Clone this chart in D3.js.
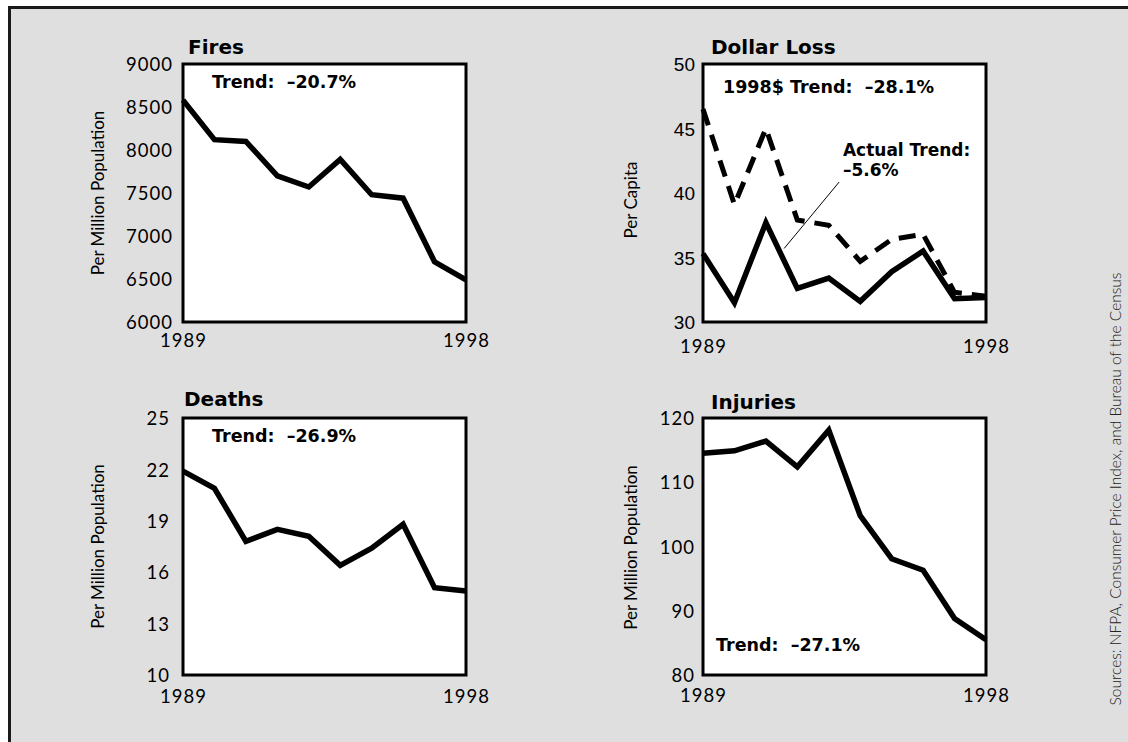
<!DOCTYPE html>
<html>
<head>
<meta charset="utf-8">
<script src="https://cdn.jsdelivr.net/npm/d3@7"></script>
<style>
  html, body { margin: 0; padding: 0; background: #ffffff; }
  svg { display: block; }
</style>
</head>
<body>
<svg id="chart" width="1128" height="742"></svg>
<script>
// ---------- data ----------
const years = [1989, 1990, 1991, 1992, 1993, 1994, 1995, 1996, 1997, 1998];
const fires = [8580, 8120, 8100, 7700, 7570, 7890, 7480, 7440, 6700, 6490];
const lossActual = [35.3, 31.5, 37.7, 32.6, 33.4, 31.6, 33.9, 35.5, 31.8, 31.9];
const loss1998 = [46.5, 39.1, 45.0, 37.9, 37.5, 34.7, 36.4, 36.8, 32.3, 32.0];
const deaths = [21.9, 20.9, 17.8, 18.5, 18.1, 16.4, 17.4, 18.8, 15.1, 14.9];
const injuries = [114.5, 114.9, 116.4, 112.4, 118.1, 104.8, 98.1, 96.3, 88.8, 85.5];

const yearTicks = [1989, 1998];
const fireTicks = [6000, 6500, 7000, 7500, 8000, 8500, 9000];
const lossTicks = [30, 35, 40, 45, 50];
const deathTicks = [10, 13, 16, 19, 22, 25];
const injuryTicks = [80, 90, 100, 110, 120];

const titles = ["Fires", "Dollar Loss", "Deaths", "Injuries"];
const yTitles = ["Per Million Population", "Per Capita", "Per Million Population", "Per Million Population"];
const trendLabels = ["Trend:  \u201320.7%", "1998$ Trend:  \u201328.1%", "Trend:  \u201326.9%", "Trend:  \u201327.1%"];
const annotationLines = ["Actual Trend:", "\u20135.6%"];
const sourceText = "Sources: NFPA, Consumer Price Index, and Bureau of the Census";

// ---------- layout ----------
const svg = d3.select("#chart");
const W = 1128, H = 742;

svg.append("rect").attr("x", 9).attr("y", 7).attr("width", W - 9).attr("height", H - 7).attr("fill", "#dfdfdf");
svg.append("line").attr("x1", 8).attr("x2", W).attr("y1", 7.5).attr("y2", 7.5).attr("stroke", "#1a1a1a").attr("stroke-width", 3);
svg.append("line").attr("x1", 9.5).attr("x2", 9.5).attr("y1", 6).attr("y2", H).attr("stroke", "#1a1a1a").attr("stroke-width", 3);

const panels = [
  { left: 183, top: 64, w: 283, h: 258, domain: [6000, 9000], ticks: fireTicks, series: [fires],
    titleDx: 5, titleY: 54, trendDx: 29, trendY: 88, tickFont: "Lato", tickSize: 18.5, tickPad: 10, yearDy: 25,
    yTitleX: 97, yTitleDy: 0 },
  { left: 703, top: 64, w: 283, h: 258, domain: [30, 50], ticks: lossTicks, series: [lossActual, loss1998],
    titleDx: 8, titleY: 54, trendDx: 20, trendY: 93, tickFont: "Liberation Sans", tickSize: 19, tickPad: 8, yearDy: 31,
    yTitleX: 630, yTitleDy: 7 },
  { left: 183, top: 418, w: 283, h: 257, domain: [10, 25], ticks: deathTicks, series: [deaths],
    titleDx: 1, titleY: 406, trendDx: 29, trendY: 442, tickFont: "Lato", tickSize: 18.5, tickPad: 13, yearDy: 28,
    yTitleX: 97, yTitleDy: 0 },
  { left: 703, top: 418, w: 283, h: 257, domain: [80, 120], ticks: injuryTicks, series: [injuries],
    titleDx: 8, titleY: 409, trendDx: 13, trendY: 651, tickFont: "Lato", tickSize: 18.5, tickPad: 8, yearDy: 27,
    yTitleX: 630, yTitleDy: 1 }
];

panels.forEach((p, i) => {
  const x = d3.scaleLinear().domain([years[0], years[years.length - 1]]).range([p.left, p.left + p.w]);
  const y = d3.scaleLinear().domain(p.domain).range([p.top + p.h, p.top]);
  const g = svg.append("g");

  g.append("rect").attr("x", p.left).attr("y", p.top).attr("width", p.w).attr("height", p.h)
    .attr("fill", "#ffffff");

  const line = d3.line().x((d, k) => x(years[k])).y(d => y(d));
  p.series.forEach((s, si) => {
    const path = g.append("path").datum(s).attr("d", line)
      .attr("fill", "none").attr("stroke", "#000").attr("stroke-width", 5.5)
      .attr("stroke-linejoin", "miter").attr("stroke-miterlimit", 3);
    if (i === 1 && si === 1) path.attr("stroke-dasharray", "17,10").attr("stroke-width", 5);
  });

  g.append("rect").attr("x", p.left).attr("y", p.top).attr("width", p.w).attr("height", p.h)
    .attr("fill", "none").attr("stroke", "#000").attr("stroke-width", 3);

  const ya = g.append("g").attr("transform", `translate(${p.left},0)`)
    .call(d3.axisLeft(y).tickValues(p.ticks).tickSize(0).tickPadding(p.tickPad).tickFormat(d3.format("d")));
  ya.select(".domain").remove();
  ya.selectAll("text").attr("font-family", p.tickFont).attr("font-size", p.tickSize)
    .attr("font-weight", 400)
    .attr("fill", "#000").attr("letter-spacing", p.tickFont === "Lato" ? 1 : 0).attr("dy", "0.36em");

  const xa = g.append("g").attr("transform", `translate(0,${p.top + p.h})`)
    .call(d3.axisBottom(x).tickValues(yearTicks).tickSize(0).tickPadding(0).tickFormat(d3.format("d")));
  xa.select(".domain").remove();
  xa.selectAll("text").attr("font-family", "Lato").attr("font-weight", 400).attr("font-size", 18.5).attr("fill", "#000")
    .attr("letter-spacing", 1).attr("y", p.yearDy).attr("dy", 0);

  g.append("text")
    .attr("transform", `translate(${p.yTitleX},${p.top + p.h / 2 + p.yTitleDy}) rotate(-90)`)
    .attr("text-anchor", "middle").attr("dominant-baseline", "central")
    .attr("font-family", "Lato").attr("font-weight", 400).attr("font-size", 17).attr("fill", "#000")
    .text(yTitles[i]);

  g.append("text").attr("x", p.left + p.titleDx).attr("y", p.titleY)
    .attr("font-family", "DejaVu Sans").attr("font-weight", "bold").attr("font-size", 20)
    .attr("fill", "#000").text(titles[i]);

  g.append("text").attr("x", p.left + p.trendDx).attr("y", p.trendY)
    .attr("font-family", "DejaVu Sans").attr("font-weight", "bold").attr("font-size", 17.5)
    .attr("fill", "#000").style("white-space", "pre").text(trendLabels[i]);

  if (i === 1) {
    g.append("line")
      .attr("x1", x(1991.58)).attr("y1", y(35.7))
      .attr("x2", x(1993.33)).attr("y2", y(40.85))
      .attr("stroke", "#000").attr("stroke-width", 1);
    const t = g.append("text").attr("font-family", "DejaVu Sans").attr("font-weight", "bold")
      .attr("font-size", 17).attr("fill", "#000");
    annotationLines.forEach((s, k) => {
      t.append("tspan").attr("x", x(1993.45)).attr("y", y(42.9) + k * 20.5).text(s);
    });
  }
});

svg.append("text")
  .attr("transform", `translate(1115,489) rotate(-90)`)
  .attr("text-anchor", "middle").attr("dominant-baseline", "central")
  .attr("font-family", "Lato").attr("font-weight", 300).attr("font-size", 15.5).attr("fill", "#222")
  .text(sourceText);
</script>
</body>
</html>
